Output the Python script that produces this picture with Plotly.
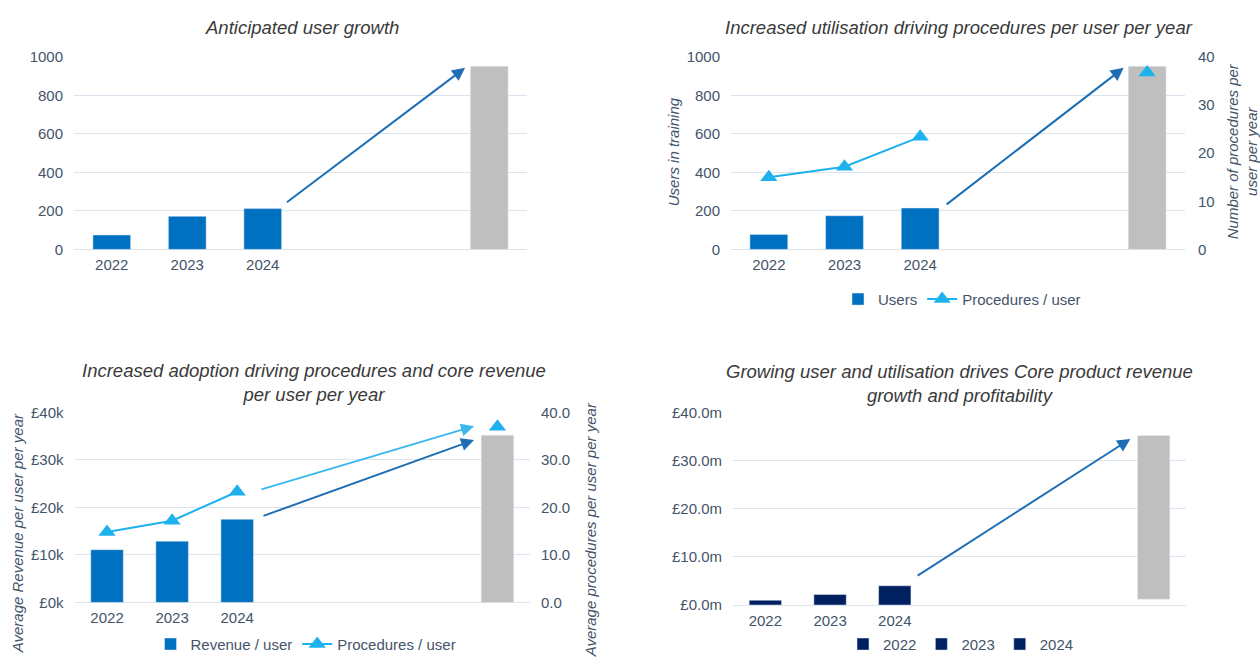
import plotly.graph_objects as go

W, H = 1260, 664

# ---------------- data ----------------
years = ["2022", "2023", "2024"]
future_label = "Target"

# Panel 1 – anticipated user growth
users_p1 = [75, 172, 212]
users_future_p1 = 952

# Panel 2 – users and procedures per user
users_p2 = [78, 175, 215]
users_future_p2 = 952
proc_p2 = [15.0, 17.2, 23.4]
proc_future_p2 = 36.8

# Panel 3 – revenue per user (£k) and procedures per user
rev_user_k = [11.1, 12.9, 17.5]
rev_user_future_k = 35.2
proc_p3 = [14.8, 17.2, 23.3]
proc_future_p3 = 37.0

# Panel 4 – core product revenue (£m)
core_rev_m = [1.0, 2.2, 4.0]
core_future_base_m = 1.2
core_future_top_m = 35.2

# tick labels
p1_yticks = [0, 200, 400, 600, 800, 1000]
p2_right_ticks = [0, 10, 20, 30, 40]
p3_left_ticks = [0, 10, 20, 30, 40]
p4_ticks = [0, 10, 20, 30, 40]

# ---------------- styles ----------------
BLUE = "#0070C0"
NAVY = "#002060"
GREY = "#BFBFBF"
SKY = "#1DB2EE"
ARROW_DARK = "#1F6EB4"
ARROW_LIGHT = "#3AB8EE"
GRID = "#D9E4EF"
TICK = "#44546A"
TITLE = "#3A3A3A"
FONT = "Liberation Sans"

cats6 = years + ["gap_a", "gap_b", future_label]
cats7 = years + ["gap_a", "gap_b", "gap_c", future_label]


def px(x):
    return x / W


def py(y):
    return 1 - y / H


tickfont = dict(family=FONT, size=15, color=TICK)

fig = go.Figure()

# Panel 1
fig.add_trace(go.Bar(x=years, y=users_p1, marker_color=BLUE, width=0.5,
                     xaxis="x", yaxis="y", showlegend=False))
fig.add_trace(go.Bar(x=[future_label], y=[users_future_p1], marker_color=GREY, width=0.5,
                     xaxis="x", yaxis="y", showlegend=False))

# Panel 2
fig.add_trace(go.Bar(x=years, y=users_p2, marker_color=BLUE, width=0.5, name="Users",
                     xaxis="x2", yaxis="y2", legend="legend"))
fig.add_trace(go.Bar(x=[future_label], y=[users_future_p2], marker_color=GREY, width=0.5,
                     xaxis="x2", yaxis="y2", showlegend=False))
fig.add_trace(go.Scatter(x=cats6, y=proc_p2 + [None, None, proc_future_p2],
                         mode="lines+markers", name="Procedures / user",
                         line=dict(color=SKY, width=2),
                         marker=dict(symbol="triangle-up", size=15, color=SKY),
                         xaxis="x2", yaxis="y3", legend="legend"))

# Panel 3
fig.add_trace(go.Bar(x=years, y=rev_user_k, marker_color=BLUE, width=0.5, name="Revenue / user",
                     xaxis="x3", yaxis="y4", legend="legend2"))
fig.add_trace(go.Bar(x=[future_label], y=[rev_user_future_k], marker_color=GREY, width=0.5,
                     xaxis="x3", yaxis="y4", showlegend=False))
fig.add_trace(go.Scatter(x=cats7, y=proc_p3 + [None, None, None, proc_future_p3],
                         mode="lines+markers", name="Procedures / user",
                         line=dict(color=SKY, width=2),
                         marker=dict(symbol="triangle-up", size=15, color=SKY),
                         xaxis="x3", yaxis="y5", legend="legend2"))

# Panel 4
for yr, val in zip(years, core_rev_m):
    fig.add_trace(go.Bar(x=[yr], y=[val], marker_color=NAVY, width=0.5, name=yr,
                         xaxis="x4", yaxis="y6", legend="legend3"))
fig.add_trace(go.Bar(x=[future_label], y=[core_future_top_m - core_future_base_m],
                     base=[core_future_base_m], marker_color=GREY, width=0.5,
                     xaxis="x4", yaxis="y6", showlegend=False))

# ---------------- axes ----------------
def xcat(domain, anchor, cats):
    return dict(domain=domain, anchor=anchor, type="category", categoryorder="array",
                categoryarray=cats, range=[-0.5, len(cats) - 0.5],
                tickmode="array", tickvals=years, ticktext=years,
                showgrid=False, showline=False, zeroline=False, ticks="",
                tickfont=tickfont, ticklabelstandoff=5, fixedrange=True)


def yleft(domain, anchor, rng, tickvals, ticktext):
    return dict(domain=domain, anchor=anchor, range=rng, tickmode="array",
                tickvals=tickvals, ticktext=ticktext, showgrid=True, gridcolor=GRID,
                gridwidth=1, zeroline=True, zerolinecolor=GRID, zerolinewidth=1,
                showline=False, ticks="", tickfont=tickfont, ticklabelstandoff=10)


top_dom = [py(246.7), py(49.3)]
bot_dom = [py(609), py(414)]
bot4_dom = [py(611.7), py(414)]

fig.update_layout(
    xaxis=xcat([px(74), px(527)], "y", cats6),
    yaxis=yleft(top_dom, "x", [0, 1000], p1_yticks, [str(v) for v in p1_yticks]),
    xaxis2=xcat([px(731), px(1185)], "y2", cats6),
    yaxis2=yleft(top_dom, "x2", [0, 1000], p1_yticks, [str(v) for v in p1_yticks]),
    yaxis3=dict(overlaying="y2", anchor="x2", side="right", range=[0, 40],
                tickmode="array", tickvals=p2_right_ticks,
                ticktext=[str(v) for v in p2_right_ticks], showgrid=False,
                zeroline=False, showline=False, ticks="", tickfont=tickfont,
                ticklabelstandoff=12),
    xaxis3=xcat([px(74.5), px(530)], "y4", cats7),
    yaxis4=yleft(bot_dom, "x3", [0, 40], p3_left_ticks,
                 ["£%dk" % v for v in p3_left_ticks]),
    yaxis5=dict(overlaying="y4", anchor="x3", side="right", range=[0, 40],
                tickmode="array", tickvals=p3_left_ticks,
                ticktext=["%.1f" % v for v in p3_left_ticks], showgrid=False,
                zeroline=False, showline=False, ticks="", tickfont=tickfont,
                ticklabelstandoff=10),
    xaxis4=xcat([px(733), px(1186)], "y6", cats7),
    yaxis6=yleft(bot4_dom, "x4", [0, 40], p4_ticks,
                 ["£%.1fm" % v for v in p4_ticks]),
)

# ---------------- legends ----------------
legfont = dict(family=FONT, size=15, color=TICK)
fig.update_layout(
    legend=dict(orientation="h", x=px(962), xanchor="center", y=py(298), yanchor="middle",
                font=legfont, bgcolor="rgba(0,0,0,0)", traceorder="normal",
                itemwidth=30),
    legend2=dict(orientation="h", x=px(306), xanchor="center", y=py(652), yanchor="middle",
                 font=legfont, bgcolor="rgba(0,0,0,0)", traceorder="normal",
                 itemwidth=30),
    legend3=dict(orientation="h", x=px(961), xanchor="center", y=py(652), yanchor="middle",
                 font=legfont, bgcolor="rgba(0,0,0,0)", traceorder="normal",
                 itemwidth=30),
)

# ---------------- titles ----------------
annotations = []


def title(text, x, y):
    annotations.append(dict(text=text, x=px(x), y=py(y), xref="paper", yref="paper",
                            showarrow=False, xanchor="center", yanchor="middle",
                            font=dict(family=FONT, size=18.5, color=TITLE, style="italic")))


title("Anticipated user growth", 302, 19)
title("Increased utilisation driving procedures per user per year", 959, 19)
title("Increased adoption driving procedures and core revenue<br>per user per year", 314, 383)
title("Growing user and utilisation drives Core product revenue<br>growth and profitability", 959, 384)


def vtitle(text, x, y):
    annotations.append(dict(text=text, x=px(x), y=py(y), xref="paper", yref="paper",
                            showarrow=False, xanchor="center", yanchor="middle",
                            textangle=-90,
                            font=dict(family=FONT, size=15, color=TICK, style="italic")))


vtitle("Users in training", 673, 147)
vtitle("Number of procedures per<br>user per year", 1242, 146)
vtitle("Average Revenue per user per year", 17, 538)
vtitle("Average procedures per user per year", 590, 535)


# ---------------- arrows (trend markers) ----------------
def arrow(xref, yref, x0, y0, x1, y1, color):
    annotations.append(dict(x=x1, y=y1, ax=x0, ay=y0, xref=xref, yref=yref,
                            axref=xref, ayref=yref, showarrow=True, text="",
                            arrowhead=2, arrowsize=1.3, arrowwidth=2, arrowcolor=color))


i24 = years.index("2024")
arrow("x", "y", i24 + 0.30, users_p1[-1] + 27, cats6.index(future_label) - 0.32,
      users_future_p1 - 8, ARROW_DARK)
arrow("x2", "y2", i24 + 0.33, users_p2[-1] + 13, cats6.index(future_label) - 0.31,
      users_future_p2 - 8, ARROW_DARK)
arrow("x3", "y5", i24 + 0.35, proc_p3[-1] + 0.4, cats7.index(future_label) - 0.36,
      proc_future_p3 + 0.1, ARROW_LIGHT)
arrow("x3", "y4", i24 + 0.38, rev_user_k[-1] + 0.6, cats7.index(future_label) - 0.36,
      rev_user_future_k - 1.0, ARROW_DARK)
arrow("x4", "y6", i24 + 0.33, core_rev_m[-1] + 1.9, cats7.index(future_label) - 0.36,
      core_future_top_m - 0.7, ARROW_DARK)

fig.update_layout(
    annotations=annotations,
    width=W, height=H, margin=dict(l=0, r=0, t=0, b=0),
    paper_bgcolor="white", plot_bgcolor="white",
    barmode="overlay", bargap=0.5,
    font=dict(family=FONT, size=15, color=TICK),
)

fig.write_html(
    "out.html",
    config={"displayModeBar": False},
    post_script="document.body.style.margin='0';document.body.style.overflow='hidden';",
)
